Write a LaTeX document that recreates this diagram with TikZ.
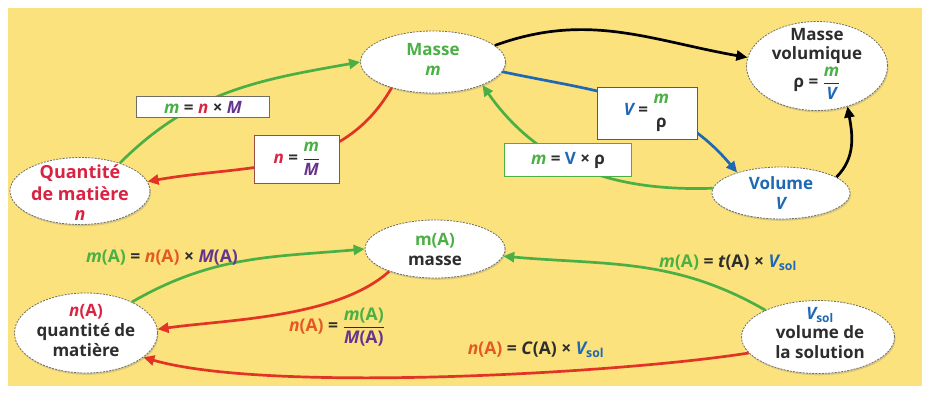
\documentclass[tikz,border=0pt]{standalone}
\usepackage{fontspec}
\usepackage{amsmath}
\setmainfont{Open Sans}
\usetikzlibrary{arrows.meta,shapes.geometric,shadows}

\definecolor{bgyellow}{RGB}{252,226,124}
\definecolor{cgreen}{RGB}{74,176,70}
\definecolor{cred}{RGB}{226,52,36}
\definecolor{cpink}{RGB}{218,34,66}
\definecolor{cblue}{RGB}{30,104,180}
\definecolor{cpurple}{RGB}{102,52,142}
\definecolor{corange}{RGB}{228,88,36}
\definecolor{cdark}{RGB}{45,45,45}
\definecolor{cborder}{RGB}{110,110,100}

% fraction with a visible bar, and a bare stack without one
\newcommand{\fracbar}[2]{\ensuremath{\genfrac{}{}{0.9pt}{0}{\text{#1}}{\text{#2}}}}
\newcommand{\fracnobar}[2]{\ensuremath{\genfrac{}{}{0pt}{0}{\text{#1}}{\text{#2}}}}
\newcommand{\gm}{{\itshape\color{cgreen}m}}
\newcommand{\pn}{{\itshape\color{cpink}n}}
\newcommand{\pM}{{\itshape\color{cpurple}M}}
\newcommand{\bV}{{\itshape\color{cblue}V}}
\newcommand{\Vsol}{{\itshape\color{cblue}V}\textsubscript{\color{cblue}\upshape sol}}

\tikzset{
  every node/.style={font=\bfseries\fontsize{17}{20}\selectfont, text=cdark},
  ell/.style={ellipse, draw=cborder, dash pattern=on 2pt off 1.2pt, line width=0.8pt,
    fill=white, inner sep=0pt,
    drop shadow={opacity=0.28, shadow xshift=1pt, shadow yshift=-1.8pt}},
  txt/.style={align=center, inner sep=0pt},
  frm/.style={rectangle, fill=white, draw=#1, line width=0.9pt, inner sep=2pt,
    font=\bfseries\fontsize{17}{20}\selectfont},
  lbl/.style={font=\bfseries\fontsize{17.5}{20}\selectfont, inner sep=1pt},
  arr/.style={line width=2.7pt, draw=#1, -{Triangle[length=11pt,width=10pt]}},
}

\begin{document}
\begin{tikzpicture}[x=1pt,y=1pt]
\useasboundingbox (0,0) rectangle (929,-394);
\fill[white] (0,0) rectangle (929,-394);
\fill[bgyellow] (8,-8) rectangle (922,-386);

% ellipses of the upper diagram
\node[ell, minimum width=145, minimum height=62] (masse) at (433,-62) {};
\node[ell, minimum width=141, minimum height=89] (mvol) at (817,-66) {};
\node[ell, minimum width=140, minimum height=67] (qte) at (80,-191) {};
\node[ell, minimum width=138, minimum height=52] (vol) at (781,-193) {};

% ellipses of the lower diagram
\node[ell, minimum width=140, minimum height=58] (massA) at (435,-249) {};
\node[ell, minimum width=143, minimum height=80] (qteA) at (86,-333) {};
\node[ell, minimum width=153, minimum height=73] (vsol) at (818,-337) {};

% texts inside the ellipses
\node[txt] (masseT) at (433,-59) {\color{cgreen}Masse\\[0pt]\gm};
\node[txt] (mvolT) at (817,-64) {Masse\\[-1pt]volumique\\[2pt]ρ = \fracbar{\gm}{\bV}};
\node[txt, font=\bfseries\fontsize{18}{22}\selectfont] (qteT) at (80,-193)
  {\color{cpink}Quantité\\\color{cpink}de matière\\[-2pt]\pn};
\node[txt] (volT) at (vol) {\color{cblue}Volume\\[0pt]\bV};
\node[txt] (massAT) at (massA) {{\color{cgreen}m(A)}\\[0pt]masse};
\node[txt] (qteAT) at (86,-330) {{\color{cpink}\itshape n\upshape(A)}\\[0pt]quantité de\\[0pt]matière};
\node[txt] (vsolT) at (820,-333) {\Vsol\\[-1pt]volume de\\[0pt]la solution};

% upper connectors
\draw[arr=cgreen] (qte.35) to[out=45,in=190] (masse.west);
\draw[arr=cred] (masse.212) to[out=240,in=10] (qte.8);
\draw[arr=black] (masse.15) to[out=20,in=170] (mvol.173);
\draw[arr=cblue] (masse.-8) to[out=-12,in=130] (vol.155);
\draw[arr=cgreen] (vol.176) to[out=182,in=-55] (masse.-25);
\draw[arr=black] (vol.16) to[out=45,in=-80] (mvol.-53);

% lower connectors
\draw[arr=cgreen] (qteA.34) to[out=30,in=185] (massA.west);
\draw[arr=cred] (massA.206) to[out=222,in=8,looseness=0.75] (qteA.3);
\draw[arr=cgreen] (vsol.153) to[out=150,in=-5] (massA.-6);
\draw[arr=cred] (vsol.193) to[out=189,in=-16,looseness=0.55] (qteA.-23);

% formula frames
\node[frm=cborder, minimum width=133, minimum height=21] (f1) at (203,-107)
  {\gm{} = \pn{} × \pM};
\node[frm=cborder!70!red, minimum width=85, minimum height=48] (f2) at (297,-159)
  {\pn{} = \fracbar{\gm}{\pM}};
\node[frm=cblue, minimum width=100, minimum height=52] (f3) at (647,-113)
  {\bV{} = \fracnobar{\gm}{ρ}};
\node[frm=cgreen, minimum width=127, minimum height=33] (f4) at (568,-160)
  {\gm{} = {\color{cblue}V} × ρ};

% formula labels of the lower diagram
\node[lbl] (l1) at (162,-258)
  {{\color{cgreen}\itshape m\upshape(A)} = {\color{corange}\itshape n\upshape(A)} × {\color{cpurple}\itshape M\upshape(A)}};
\node[lbl] (l2) at (337,-327)
  {{\color{corange}\itshape n\upshape(A)} = \fracbar{\color{cgreen}\itshape m\upshape(A)}{\color{cpurple}\itshape M\upshape(A)}};
\node[lbl] (l3) at (728,-263)
  {{\color{cgreen}\itshape m\upshape(A)} = \textit{t}(A) × \Vsol};
\node[lbl] (l4) at (536,-350)
  {{\color{corange}\itshape n\upshape(A)} = \textit{C}(A) × \Vsol};
\end{tikzpicture}
\end{document}
